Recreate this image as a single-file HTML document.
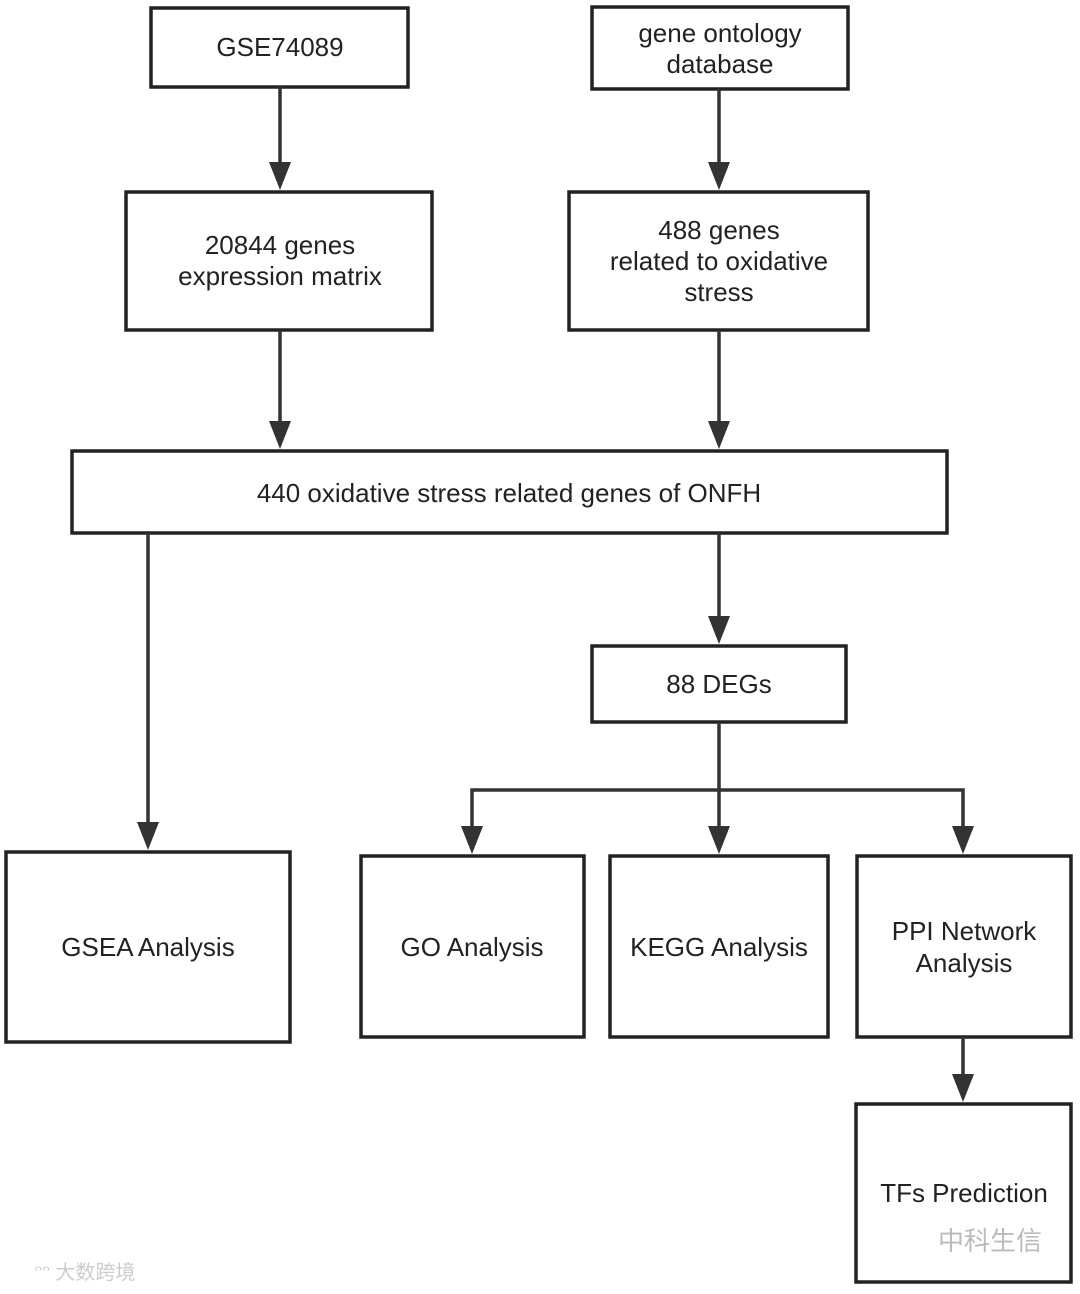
<!DOCTYPE html>
<html><head><meta charset="utf-8"><style>
html,body{margin:0;padding:0;background:#fff}
svg text{font-family:"Liberation Sans","Noto Sans CJK SC",sans-serif;font-size:26px;fill:#222;text-anchor:middle}
</style></head><body>
<svg width="1080" height="1289" viewBox="0 0 1080 1289" xmlns="http://www.w3.org/2000/svg">
<g fill="none" stroke="#222" stroke-width="3.5">
<rect x="151" y="8" width="257" height="79"/>
<rect x="592" y="7" width="256" height="82"/>
<rect x="126" y="192" width="306" height="138"/>
<rect x="569" y="192" width="299" height="138"/>
<rect x="72" y="451" width="875" height="82"/>
<rect x="592" y="646" width="254" height="76"/>
<rect x="6" y="852" width="284" height="190"/>
<rect x="361" y="856" width="223" height="181"/>
<rect x="610" y="856" width="218" height="181"/>
<rect x="857" y="856" width="214" height="181"/>
<rect x="856" y="1104" width="215" height="178"/>
</g>
<g stroke="#333" stroke-width="3.5" fill="none">
<line x1="280" y1="87" x2="280" y2="165"/>
<line x1="719" y1="89" x2="719" y2="165"/>
<line x1="280" y1="330" x2="280" y2="424"/>
<line x1="719" y1="330" x2="719" y2="424"/>
<line x1="148" y1="533" x2="148" y2="825"/>
<line x1="719" y1="533" x2="719" y2="619"/>
<line x1="719" y1="722" x2="719" y2="829"/>
<polyline points="472,829 472,790 963,790 963,829"/>
<line x1="963" y1="1037" x2="963" y2="1077"/>
</g>
<g fill="#333">
<polygon points="269,162 291,162 280,190"/>
<polygon points="708,162 730,162 719,190"/>
<polygon points="269,421 291,421 280,449"/>
<polygon points="708,421 730,421 719,449"/>
<polygon points="137,822 159,822 148,850"/>
<polygon points="708,616 730,616 719,644"/>
<polygon points="708,826 730,826 719,854"/>
<polygon points="461,826 483,826 472,854"/>
<polygon points="952,826 974,826 963,854"/>
<polygon points="952,1074 974,1074 963,1102"/>
</g>
<text x="280" y="56">GSE74089</text>
<text x="720" y="42">gene ontology</text>
<text x="720" y="73">database</text>
<text x="280" y="254">20844 genes</text>
<text x="280" y="285">expression matrix</text>
<text x="719" y="239">488 genes</text>
<text x="719" y="270">related to oxidative</text>
<text x="719" y="301">stress</text>
<text x="509" y="502">440 oxidative stress related genes of ONFH</text>
<text x="719" y="693">88 DEGs</text>
<text x="148" y="956">GSEA Analysis</text>
<text x="472" y="956">GO Analysis</text>
<text x="719" y="956">KEGG Analysis</text>
<text x="964" y="940">PPI Network</text>
<text x="964" y="972">Analysis</text>
<text x="964" y="1202">TFs Prediction</text>
<text x="990" y="1250" style="fill:#bbb;font-size:26px">中科生信</text>
<text x="85" y="1279" style="fill:#ccc;font-size:20px">ᵔᵔ 大数跨境</text>
</svg>
</body></html>
